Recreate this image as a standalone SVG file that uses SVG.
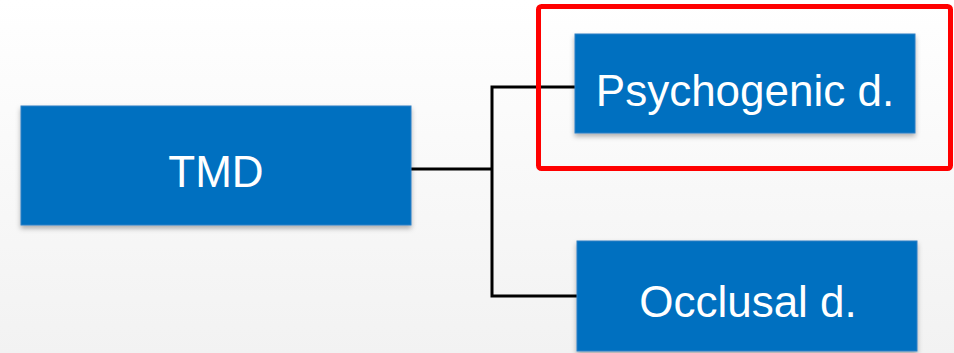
<svg xmlns="http://www.w3.org/2000/svg" width="954" height="353" viewBox="0 0 954 353">
  <defs>
    <linearGradient id="bg" x1="0" y1="0" x2="0" y2="1">
      <stop offset="0" stop-color="#ffffff"/>
      <stop offset="1" stop-color="#f2f2f2"/>
    </linearGradient>
    <filter id="sh" x="-5%" y="-10%" width="110%" height="130%">
      <feDropShadow dx="0" dy="3" stdDeviation="2.5" flood-color="#000" flood-opacity="0.3"/>
    </filter>
  </defs>
  <style>
    .box { fill: #0070C0; stroke: #2f7fc4; stroke-width: 1; filter: url(#sh); }
    .lbl { fill: #ffffff; font-family: "Liberation Sans", Arial, sans-serif; font-size: 44px; text-anchor: middle; }
    .con { fill: none; stroke: #000000; stroke-width: 3; }
  </style>
  <rect x="0" y="0" width="954" height="353" fill="url(#bg)"/>
  <g id="connectors">
    <path class="con" d="M411 169 H492"/>
    <path class="con" d="M575 87 H492 V296 H577"/>
  </g>
  <g id="tmd">
    <rect class="box" x="21" y="106" width="390" height="119"/>
    <text class="lbl" x="216" y="187">TMD</text>
  </g>
  <g id="psychogenic">
    <rect class="box" x="575" y="34" width="340" height="99"/>
    <text class="lbl" x="745" y="106">Psychogenic d.</text>
  </g>
  <g id="occlusal">
    <rect class="box" x="577" y="241" width="340" height="110"/>
    <text class="lbl" x="748" y="317">Occlusal d.</text>
  </g>
  <g id="highlight">
    <rect x="538.5" y="6.5" width="412" height="162" rx="3" fill="none" stroke="#ff0000" stroke-width="5"/>
  </g>
</svg>
